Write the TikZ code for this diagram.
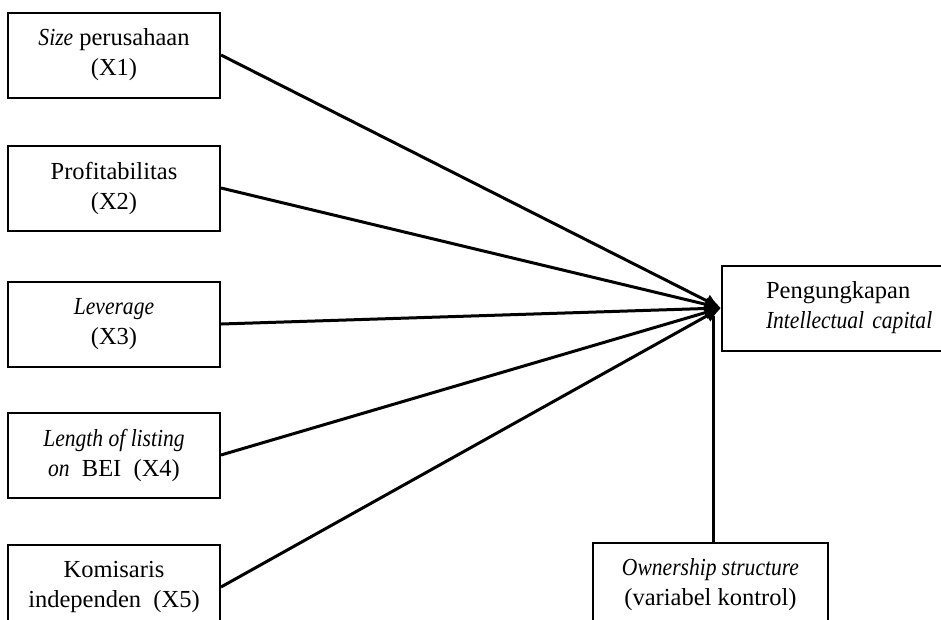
\documentclass[tikz,border=0pt]{standalone}
\usepackage{fontspec}
\setmainfont[ItalicFeatures={FakeStretch=0.88}]{Liberation Serif}
\usetikzlibrary{arrows.meta}

\begin{document}
\begin{tikzpicture}[x=1pt, y=-1pt,
        var/.style={draw, line width=2pt, minimum width=212pt, minimum height=85pt, align=center, font=\fontsize{24.5}{30}\selectfont},
        link/.style={-{Latex[length=16pt, width=14pt]}, line width=3pt}]
        \clip (0, 0) rectangle (941, 619);

        \node[var] (x1) at (114, 55) {\textit{Size} perusahaan\\(X1)};
        \node[var] (x2) at (114, 188) {Profitabilitas\\(X2)};
        \node[var] (x3) at (114, 324) {\textit{Leverage}\\(X3)};
        \node[var] (x4) at (114, 455) {\textit{Length of listing}\\\textit{on}\ \ BEI\ \ (X4)};
        \node[var] (x5) at (114, 587) {Komisaris\\independen\ \ (X5)};

        \node[var, anchor=west, text width=200pt, inner xsep=44pt, align=left] (ic) at (721, 308) {Pengungkapan\\\textit{Intellectual capital}};
        \node[var, minimum width=235pt] (os) at (710.5, 585) {\textit{Ownership structure}\\(variabel kontrol)};

        \coordinate (hub) at (713, 316);

        \draw[link] (x1.east) -- (ic.west);
        \draw[link] (x2.east) -- (ic.west);
        \draw[link] (x3.east) -- (ic.west);
        \draw[link] (x4.east) -- (ic.west);
        \draw[link] (x5.east) -- (ic.west);
        \draw[line width=3pt] (os.north -| hub) -- (hub);
    \end{tikzpicture}
\end{document}
